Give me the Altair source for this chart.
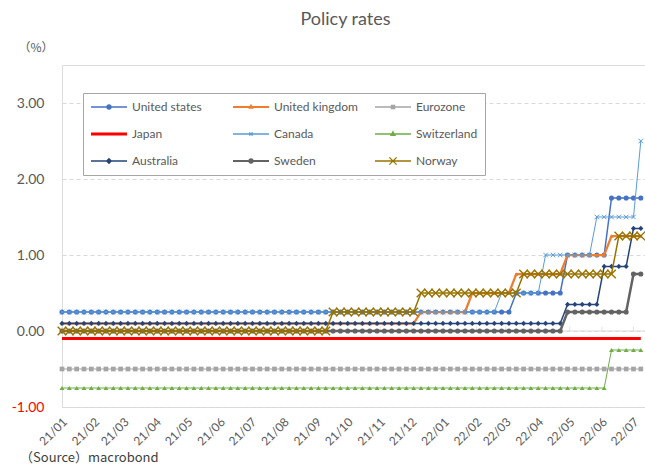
import altair as alt
import pandas as pd

# ---------------- data ----------------
first_obs = "2021-01-08"        # weekly observations (Fridays)
n_obs = 80

series = ["United states", "United kingdom", "Eurozone", "Japan", "Canada",
          "Switzerland", "Australia", "Sweden", "Norway"]

united_states  = [0.25] * 62 + [0.50] * 7 + [1.00] * 6 + [1.75] * 5
united_kingdom = [0.10] * 49 + [0.25] * 7 + [0.50] * 6 + [0.75] * 7 + [1.00] * 6 + [1.25] * 5
eurozone       = [-0.50] * 80
japan          = [-0.10] * 80
canada         = [0.25] * 60 + [0.50] * 6 + [1.00] * 7 + [1.50] * 6 + [2.50] * 1
switzerland    = [-0.75] * 75 + [-0.25] * 5
australia      = [0.10] * 69 + [0.35] * 5 + [0.85] * 4 + [1.35] * 2
sweden         = [0.00] * 69 + [0.25] * 9 + [0.75] * 2
norway         = [0.00] * 37 + [0.25] * 12 + [0.50] * 14 + [0.75] * 13 + [1.25] * 4

values = [united_states, united_kingdom, eurozone, japan, canada,
          switzerland, australia, sweden, norway]

# x tick labels (yy/mm)
tick_months = [(2021, m) for m in range(1, 13)] + [(2022, m) for m in range(1, 8)]
tick_labels = ["21/01", "21/02", "21/03", "21/04", "21/05", "21/06", "21/07", "21/08",
               "21/09", "21/10", "21/11", "21/12", "22/01", "22/02", "22/03", "22/04",
               "22/05", "22/06", "22/07"]
y_ticks = [-1.0, -0.5, 0.0, 0.5, 1.0, 1.5, 2.0, 2.5, 3.0, 3.5]
source_note = ["（Source）macrobond"]

# ---------------- styles ----------------
colors = ["#4472C4", "#ED7D31", "#A5A5A5", "#FF0000", "#5B9BD5",
          "#70AD47", "#264478", "#636363", "#997300"]
line_w = [1.5, 2.25, 1.0, 3.0, 1.0, 1.0, 1.5, 2.5, 1.5]
X_PATH = "M-1,-1L1,1M1,-1L-1,1"
marker = [("circle", 26, True), ("triangle-up", 16, True), ("square", 22, True),
          (None, 0, True), (X_PATH, 20, False), ("triangle-up", 24, True),
          ("diamond", 26, True), ("circle", 26, True), (X_PATH, 75, False)]

# legend symbols, stroke-only paths (unit = 18 px with symbolSize 1296)
def circ(r):
    return f"M{r},0A{r},{r} 0 1,1 -{r},0A{r},{r} 0 1,1 {r},0Z"
def sq(h):
    return f"M-{h},-{h}L{h},-{h}L{h},{h}L-{h},{h}Z"
def tri(s):
    return f"M0,-{s*1.15:.3f}L{s:.3f},{s*0.7:.3f}L-{s:.3f},{s*0.7:.3f}Z"
def dia(s):
    return f"M0,-{s}L{s},0L0,{s}L-{s},0Z"
def xx(s):
    return f"M-{s},-{s}L{s},{s}M{s},-{s}L-{s},{s}"
def lines(offs):
    return "".join(f"M-1,{o}L1,{o}" for o in offs)
LINE = lines([0])
leg_paths = [
    LINE + circ(0.11) + circ(0.05),
    lines([-0.025, 0.025]) + tri(0.09) + tri(0.04),
    LINE + sq(0.09) + sq(0.035),
    lines([-0.05, 0, 0.05]),
    LINE + xx(0.09),
    LINE + tri(0.11) + tri(0.05),
    LINE + dia(0.13) + dia(0.06),
    lines([-0.025, 0.025]) + circ(0.11) + circ(0.05),
    LINE + xx(0.2),
]

dates = pd.date_range(first_obs, periods=n_obs, freq="7D")
TXT = "#595959"

# x: no axis at all (labels drawn as text marks below)
x_enc = alt.X(
    "date:T",
    scale=alt.Scale(domain=[alt.DateTime(year=2021, month=1, date=8),
                            alt.DateTime(year=2022, month=7, date=19)]),
    axis=None,
)
y_enc = alt.Y(
    "value:Q",
    scale=alt.Scale(domain=[-1.0, 3.5], nice=False, zero=False),
    axis=alt.Axis(
        values=y_ticks,
        labelExpr="(datum.value < 0 ? '-' : '') + format(abs(datum.value), '.2f')",
        labelColor={"condition": {"test": "datum.value < 0", "value": "#FF0000"}, "value": TXT},
        labelFontSize=14, labelFont="Lato", labelPadding=18,
        domain=False, ticks=False, tickSize=0,
        grid=True, gridDash=[4, 3], gridColor="#D9D9D9", gridWidth=1,
        title="（%）", titleAngle=0, titleX=-44, titleY=-18, titleAlign="left",
        titleBaseline="middle", titleFontSize=12, titleFontWeight="normal",
        titleColor=TXT, titleFont="Noto Sans CJK JP",
    ),
)

layers = []
zero_df = pd.DataFrame({"value": [0.0]})
layers.append(alt.Chart(zero_df).mark_rule(color="#D9D9D9", strokeWidth=1).encode(y=y_enc))

tick_df = pd.DataFrame({
    "date": [pd.Timestamp(year=y, month=m, day=8) for y, m in tick_months],
    "value": [0.0] * len(tick_months),
    "low": [-1.0] * len(tick_months),
    "label": tick_labels,
})
layers.append(alt.Chart(tick_df).mark_tick(color="#D9D9D9", thickness=1, size=5,
                                           orient="vertical", yOffset=-2)
              .encode(x=x_enc, y=y_enc))
# month labels under the plot
layers.append(
    alt.Chart(tick_df).mark_text(angle=315, align="right", baseline="middle",
                                 font="Lato", fontSize=12, color=TXT,
                                 xOffset=3, yOffset=13)
    .encode(x=x_enc, y=alt.Y("low:Q", scale=alt.Scale(domain=[-1.0, 3.5], nice=False, zero=False)),
            text="label:N")
)
# source note
layers.append(
    alt.Chart(pd.DataFrame({"note": source_note})).mark_text(
        align="left", baseline="middle", font="Noto Sans CJK JP", fontSize=13, color="#404040")
    .encode(text="note:N", x=alt.value(-42), y=alt.value(393))
)

for name, vals, col, lw, (shp, sz, filled) in zip(series, values, colors, line_w, marker):
    df = pd.DataFrame({"date": dates, "value": vals})
    base = alt.Chart(df)
    layers.append(base.mark_line(color=col, strokeWidth=lw).encode(x=x_enc, y=y_enc))
    if shp is not None:
        if filled:
            pm = base.mark_point(shape=shp, size=sz, filled=True, color=col, opacity=1, strokeWidth=0)
        else:
            pm = base.mark_point(shape=shp, size=sz, filled=False, color=col, opacity=1,
                                 strokeWidth=1.4 if sz > 40 else 1.0)
        layers.append(pm.encode(x=x_enc, y=y_enc))

leg = alt.Legend(
    orient="none", legendX=21, legendY=28, direction="horizontal", columns=3,
    title=None, symbolSize=1296, symbolStrokeWidth=1.3, labelFontSize=12,
    labelFont="Lato", labelColor=TXT, labelOffset=4, rowPadding=13, columnPadding=16,
    gridAlign="all", padding=7, strokeColor="#A6A6A6", fillColor="white",
    symbolOffset=0, clipHeight=14, symbolOpacity=1,
)
leg_df = pd.DataFrame({"series": series, "date": [dates[0]] * 9, "value": [0.0] * 9})
layers.append(
    alt.Chart(leg_df).mark_point(filled=False, opacity=0).encode(
        x=x_enc, y=y_enc,
        color=alt.Color("series:N", scale=alt.Scale(domain=series, range=colors), legend=leg),
        shape=alt.Shape("series:N", scale=alt.Scale(domain=series, range=leg_paths), legend=leg),
    )
)

chart = (
    alt.layer(*layers)
    .properties(
        width=583, height=342,
        autosize=alt.AutoSizeParams(type="none"),
        padding={"left": 62, "top": 65, "right": 0, "bottom": 59},
        title=alt.TitleParams("Policy rates", fontSize=18, font="Lato", fontWeight="normal",
                              color=TXT, anchor="middle", frame="group", offset=12, dx=-8),
    )
    .configure_view(stroke="transparent", strokeWidth=0)
    .configure(background="white")
)

chart.save("out.html", embed_options={"renderer": "svg", "actions": False})
